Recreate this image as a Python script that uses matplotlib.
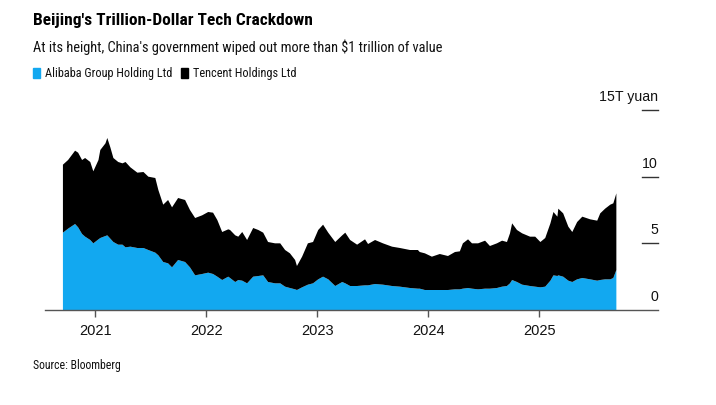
import pandas as pd
import matplotlib.pyplot as plt
import matplotlib.dates as mdates
import matplotlib.transforms as mtransforms

plt.rcParams['font.family'] = ['Liberation Sans', 'DejaVu Sans']
HEAD_FONT = ['Roboto Condensed', 'Liberation Sans', 'DejaVu Sans']

dates = [
    "2020-09-16", "2020-10-03", "2020-10-26", "2020-11-05", "2020-11-18", "2020-11-28",
    "2020-12-15", "2020-12-25", "2021-01-11", "2021-01-17", "2021-02-03", "2021-02-09",
    "2021-02-19", "2021-03-01", "2021-03-17", "2021-03-31", "2021-04-10", "2021-04-26",
    "2021-05-19", "2021-06-08", "2021-06-24", "2021-07-17", "2021-07-27", "2021-08-12",
    "2021-08-28", "2021-09-10", "2021-09-30", "2021-10-23", "2021-11-08", "2021-11-25",
    "2021-12-18", "2022-01-07", "2022-01-23", "2022-02-06", "2022-02-22", "2022-03-14",
    "2022-03-20", "2022-04-06", "2022-04-16", "2022-04-29", "2022-05-15", "2022-06-04",
    "2022-06-21", "2022-07-07", "2022-07-23", "2022-08-15", "2022-09-01", "2022-09-17",
    "2022-10-03", "2022-10-20", "2022-10-26", "2022-11-12", "2022-12-01", "2022-12-18",
    "2023-01-04", "2023-01-20", "2023-02-06", "2023-03-01", "2023-03-24", "2023-04-03",
    "2023-04-19", "2023-05-12", "2023-06-07", "2023-06-17", "2023-07-10", "2023-08-05",
    "2023-09-04", "2023-09-30", "2023-11-02", "2023-11-28", "2023-12-04", "2023-12-21",
    "2024-01-13", "2024-02-08", "2024-03-06", "2024-03-29", "2024-04-14", "2024-04-24",
    "2024-05-11", "2024-05-24", "2024-06-13", "2024-07-06", "2024-07-22", "2024-08-14",
    "2024-08-31", "2024-09-16", "2024-09-26", "2024-10-03", "2024-10-19", "2024-11-05",
    "2024-12-01", "2024-12-18", "2025-01-04", "2025-01-20", "2025-02-06", "2025-02-16",
    "2025-03-01", "2025-03-04", "2025-03-20", "2025-04-06", "2025-04-19", "2025-05-05",
    "2025-05-22", "2025-06-17", "2025-07-10", "2025-07-20", "2025-08-05", "2025-08-22",
    "2025-09-01", "2025-09-11",
]

# market value, trillion yuan
alibaba = [
    5.8, 6.1, 6.45, 6.2, 5.7, 5.5,
    5.25, 5.0, 5.3, 5.4, 5.55, 5.6,
    5.35, 5.1, 4.9, 4.9, 4.7, 4.75,
    4.65, 4.65, 4.5, 4.3, 4.1, 3.6,
    3.5, 3.2, 3.75, 3.6, 3.2, 2.6,
    2.7, 2.8, 2.7, 2.5, 2.25, 2.5,
    2.4, 2.1, 2.25, 2.2, 2.0, 2.5,
    2.55, 2.6, 2.1, 2.0, 2.0, 1.75,
    1.65, 1.55, 1.5, 1.7, 1.9, 2.0,
    2.3, 2.5, 2.3, 1.8, 2.1, 2.0,
    1.8, 1.8, 1.85, 1.85, 1.95, 1.9,
    1.8, 1.75, 1.65, 1.6, 1.6, 1.5,
    1.5, 1.5, 1.5, 1.55, 1.55, 1.6,
    1.65, 1.6, 1.55, 1.6, 1.6, 1.65,
    1.75, 1.8, 2.0, 2.25, 2.1, 1.9,
    1.8, 1.75, 1.7, 1.75, 2.2, 2.6,
    2.55, 2.6, 2.5, 2.2, 2.1, 2.3,
    2.4, 2.3, 2.2, 2.25, 2.3, 2.3,
    2.4, 3.0,
]

tencent = [
    5.1, 5.15, 5.5, 5.6, 5.55, 5.9,
    5.85, 5.4, 5.95, 6.6, 6.95, 7.3,
    6.85, 6.3, 6.2, 6.1, 6.4, 5.95,
    5.65, 5.7, 5.5, 5.6, 4.9, 4.3,
    4.75, 4.5, 4.65, 4.65, 4.3, 4.3,
    4.4, 4.55, 4.6, 4.25, 3.6, 3.55,
    3.6, 3.5, 3.25, 3.65, 3.25, 3.65,
    3.45, 3.2, 3.0, 3.0, 3.0, 2.75,
    2.6, 2.2, 1.8, 2.3, 3.1, 3.1,
    3.7, 3.9, 3.5, 3.3, 3.5, 3.8,
    3.45, 3.1, 3.45, 3.1, 3.3, 3.1,
    2.95, 2.9, 2.85, 2.9, 2.75, 2.75,
    2.5, 2.7, 2.55, 2.8, 2.85, 3.4,
    3.65, 3.4, 3.45, 3.6, 3.2, 3.35,
    3.45, 3.3, 3.75, 4.25, 3.9, 3.85,
    3.7, 3.75, 3.4, 3.65, 4.3, 4.75,
    4.45, 5.0, 4.75, 4.05, 3.75, 4.3,
    4.6, 4.5, 4.5, 5.0, 5.3, 5.6,
    5.6, 5.75,
]

labels = ["Alibaba Group Holding Ltd", "Tencent Holdings Ltd"]
colors = ["#12a8f0", "#000000"]
years = [2021, 2022, 2023, 2024, 2025]
yticks = [0, 5, 10, 15]
ylabels = ["0", "5", "10", "15T yuan"]

x = pd.to_datetime(dates)

fig = plt.figure(figsize=(7.16, 4.05), dpi=100)
ax = fig.add_axes([45 / 716, 1 - 310 / 405, 613 / 716, 200 / 405])

ax.stackplot(x, alibaba, tencent, colors=colors, linewidth=0)

ax.set_xlim(pd.Timestamp("2020-07-19"), pd.Timestamp("2026-01-26"))
ax.set_ylim(0, 15)

for s in ["top", "left", "right"]:
    ax.spines[s].set_visible(False)
ax.spines["bottom"].set_color("#555555")
ax.spines["bottom"].set_linewidth(1.0)

ax.set_xticks([pd.Timestamp(f"{y}-01-01") for y in years])
ax.xaxis.set_major_formatter(mdates.DateFormatter("%Y"))
ax.tick_params(axis="x", direction="out", length=5, width=1, color="#555555",
               labelsize=10.5, pad=5, labelcolor="#111111")
ax.set_yticks([])

# right-side value scale: short dashes with labels above
trans = mtransforms.blended_transform_factory(ax.transAxes, ax.transData)
for v, lab in zip(yticks, ylabels):
    if v > 0:
        ax.plot([0.974, 1.0], [v, v], transform=trans, color="#333333", lw=1,
                clip_on=False)
    ax.text(1.0, v + 0.45, lab, transform=trans, ha="right", va="bottom",
            fontsize=10.2, color="#111111")

fig.text(33 / 716, 1 - 21 / 405, "Beijing's Trillion-Dollar Tech Crackdown",
         fontsize=12.5, fontweight="bold", va="center", ha="left", family=HEAD_FONT)
fig.text(33 / 716, 1 - 47 / 405,
         "At its height, China's government wiped out more than $1 trillion of value",
         fontsize=10.4, va="center", ha="left", color="#111111", family=HEAD_FONT)

# legend row
lx = 33
for lab, c in zip(labels, colors):
    fig.patches.append(plt.Rectangle((lx / 716, 1 - 78 / 405), 7 / 716, 10 / 405,
                                     transform=fig.transFigure, color=c))
    t = fig.text((lx + 12) / 716, 1 - 73 / 405, lab, fontsize=8.8, va="center",
                 ha="left", color="#111111", family=HEAD_FONT)
    fig.canvas.draw()
    bb = t.get_window_extent()
    lx = bb.x1 + 9

fig.text(33 / 716, 1 - 365 / 405, "Source: Bloomberg", fontsize=8.5, va="center",
         ha="left", color="#111111", family=HEAD_FONT)

fig.savefig("out.png", dpi=100)
